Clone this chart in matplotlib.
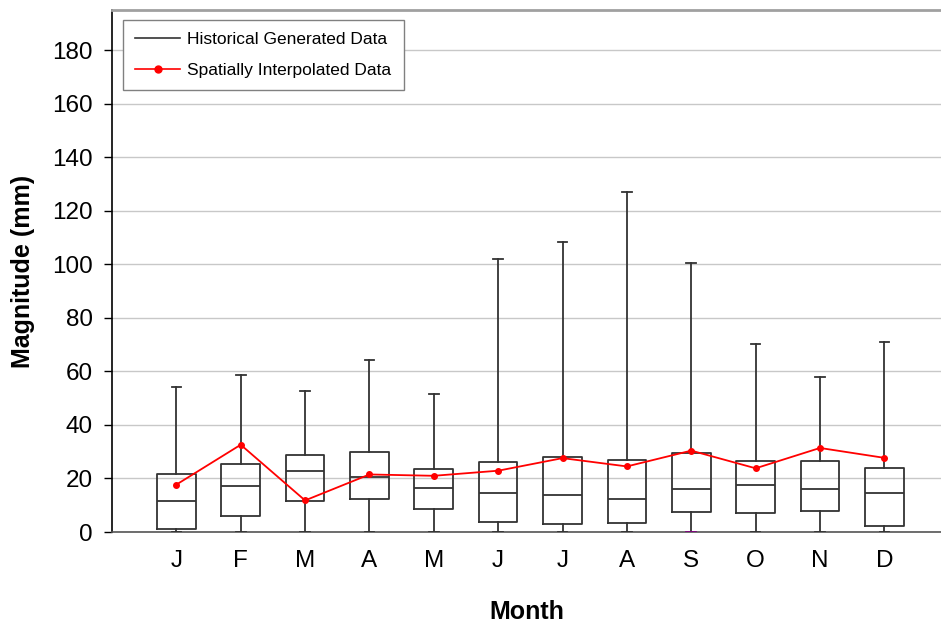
import matplotlib

matplotlib.use("Agg")
import matplotlib.pyplot as plt
from matplotlib.lines import Line2D

plt.rcParams["font.family"] = ["Liberation Sans", "DejaVu Sans"]

months = ["J", "F", "M", "A", "M", "J", "J", "A", "S", "O", "N", "D"]
whisker_low = [0, 0, 0, 0, 0, 0, 0, 0, 0, 0, 0, 0]
q1 = [1.1, 6.0, 11.5, 12.2, 8.5, 3.9, 3.0, 3.2, 7.5, 7.0, 7.8, 2.4]
median = [11.5, 17.1, 22.7, 20.4, 16.5, 14.7, 13.7, 12.4, 16.2, 17.5, 16.2, 14.7]
q3 = [21.8, 25.5, 28.9, 30.0, 23.4, 26.3, 28.1, 26.9, 29.5, 26.5, 26.4, 24.0]
whisker_high = [54.0, 58.5, 52.8, 64.3, 51.5, 101.9, 108.3, 127.0, 100.5, 70.2, 58.0, 71.0]
interpolated = [17.7, 32.6, 11.8, 21.5, 21.0, 22.9, 27.6, 24.5, 30.4, 23.8, 31.4, 27.7]

BOX_COLOR = "#333333"

fig = plt.figure(figsize=(9.41, 6.27), dpi=100)
ax = fig.add_axes([0.119, 0.1515, 0.881, 0.8325])

stats = []
for i in range(len(months)):
    stats.append({
        "whislo": whisker_low[i], "q1": q1[i], "med": median[i],
        "q3": q3[i], "whishi": whisker_high[i], "fliers": [],
    })

pos = list(range(1, len(months) + 1))
bp = ax.bxp(stats, positions=pos, widths=0.6, showfliers=False,
            boxprops=dict(color=BOX_COLOR, linewidth=1.3),
            medianprops=dict(color=BOX_COLOR, linewidth=1.3),
            whiskerprops=dict(color=BOX_COLOR, linewidth=1.3),
            capprops=dict(color=BOX_COLOR, linewidth=1.3),
            capwidths=0.15, zorder=3)
# the September lower cap is drawn purple in the original
bp["caps"][2 * 8].set_color("#800080")

ax.plot(pos, interpolated, color="red", linewidth=1.3, marker="o",
        markersize=4, zorder=4)

ax.set_xlim(0, 12.88)
ax.set_ylim(0, 195)
ax.set_yticks(range(0, 181, 20))
ax.set_xticks(pos)
ax.set_xticklabels(months)
ax.tick_params(axis="x", length=0, pad=13, labelsize=17.5)
ax.tick_params(axis="y", length=6, width=1, labelsize=17.5, pad=8)
ax.grid(axis="y", color="#c8c8c8", linewidth=1)
ax.set_axisbelow(True)

ax.spines["right"].set_visible(False)
ax.spines["top"].set_color("#a0a0a0")
ax.spines["top"].set_linewidth(2)
ax.spines["left"].set_color("black")
ax.spines["left"].set_linewidth(1.2)
ax.spines["bottom"].set_color("#555555")
ax.spines["bottom"].set_linewidth(1.2)

ax.set_xlabel("Month", fontsize=18, fontweight="bold", labelpad=20)
ax.set_ylabel("Magnitude (mm)", fontsize=18, fontweight="bold", labelpad=12)

handles = [
    Line2D([], [], color="#333333", linewidth=1.2),
    Line2D([], [], color="red", linewidth=1.2, marker="o", markersize=5),
]
leg = ax.legend(handles, ["Historical Generated Data", "Spatially Interpolated Data"],
                loc="upper left", bbox_to_anchor=(0.0133, 0.981), borderaxespad=0,
                fontsize=12.5, fancybox=False, framealpha=1, edgecolor="#808080",
                handlelength=2.6, handletextpad=0.4, labelspacing=0.9, borderpad=0.7)
leg.get_frame().set_linewidth(1)

fig.savefig("out.png", dpi=100)
